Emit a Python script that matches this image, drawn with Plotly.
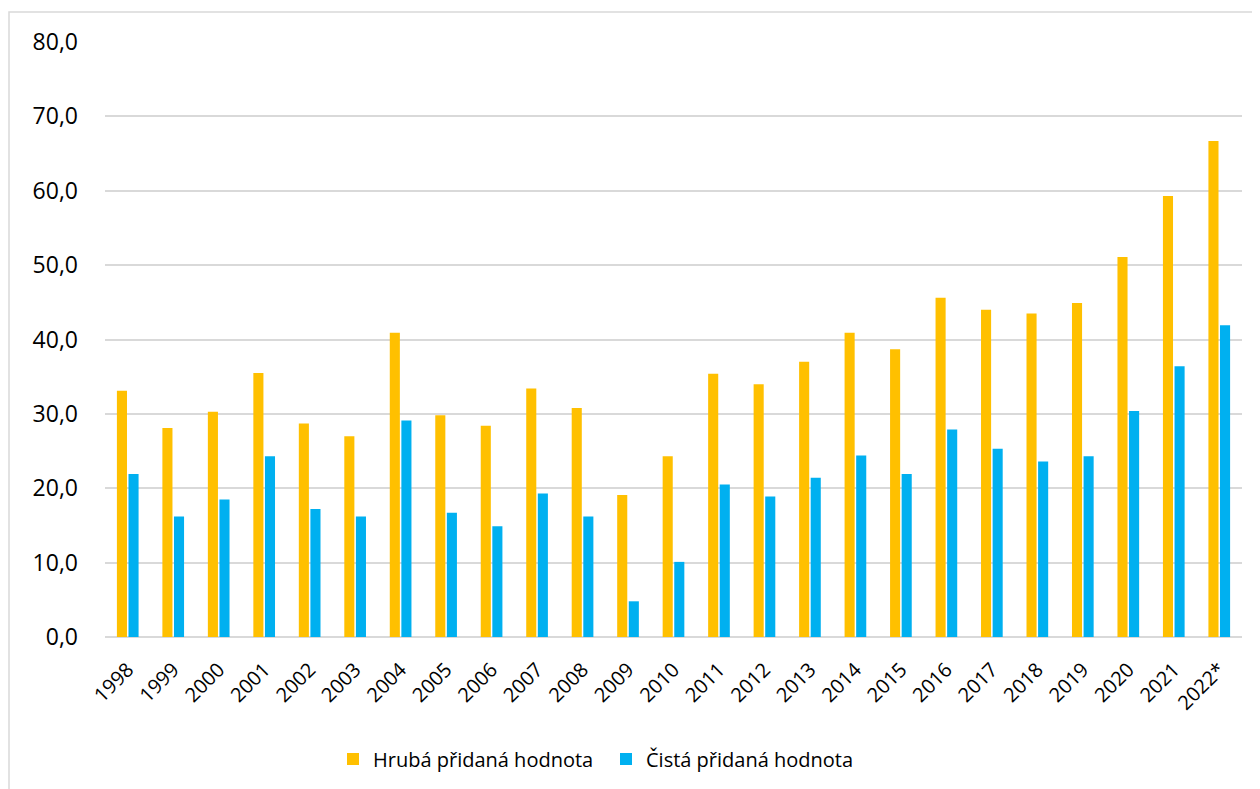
import plotly.graph_objects as go

years = ["1998", "1999", "2000", "2001", "2002", "2003", "2004", "2005", "2006", "2007",
         "2008", "2009", "2010", "2011", "2012", "2013", "2014", "2015", "2016", "2017",
         "2018", "2019", "2020", "2021", "2022*"]
hruba = [33.1, 28.1, 30.3, 35.5, 28.7, 27.0, 40.9, 29.8, 28.4, 33.4,
         30.8, 19.1, 24.3, 35.4, 34.0, 37.0, 40.9, 38.7, 45.6, 44.0,
         43.5, 44.9, 51.1, 59.3, 66.7]
cista = [21.9, 16.2, 18.5, 24.3, 17.2, 16.2, 29.1, 16.7, 14.9, 19.3,
         16.2, 4.8, 10.1, 20.5, 18.9, 21.4, 24.4, 21.9, 27.9, 25.3,
         23.6, 24.3, 30.4, 36.4, 41.9]
series_names = ["Hrubá přidaná hodnota", "Čistá přidaná hodnota"]
colors = ["#FFC000", "#00B0F0"]
y_ticks = [0, 10, 20, 30, 40, 50, 60, 70, 80]

FONT = "Open Sans"
OFF = 8  # page body margin
W, H = 1260 - OFF, 789 - OFF
L, R, T, B = 105 - OFF, 18, 42 - OFF, 151
pw, ph = W - L - R, H - T - B

fig = go.Figure()
for name, vals, col in zip(series_names, [hruba, cista], colors):
    fig.add_trace(go.Bar(x=years, y=vals, name=name, marker=dict(color=col, line=dict(width=0))))

def px_x(p):
    return (p - OFF - L) / pw

def px_y(p):
    return (H - B - (p - OFF)) / ph

fig.add_shape(type="rect", xref="paper", yref="paper",
              x0=px_x(9), x1=px_x(1275), y0=px_y(805), y1=px_y(12),
              line=dict(color="#d9d9d9", width=1.5), fillcolor="rgba(0,0,0,0)", layer="below")

fig.update_layout(
    width=W, height=H,
    margin=dict(l=L, r=R, t=T, b=B, pad=0),
    paper_bgcolor="white", plot_bgcolor="white",
    barmode="group", bargap=0.49, bargroupgap=0.13,
    separators=", ",
    font=dict(family=FONT, color="#000000"),
    showlegend=True,
    legend=dict(orientation="h", x=px_x(333), xanchor="left", y=px_y(759), yanchor="middle",
                font=dict(size=20, family=FONT, color="#000000"),
                entrywidth=228, entrywidthmode="pixels",
                bgcolor="rgba(0,0,0,0)"),
)
fig.update_yaxes(range=[0, 80], tickvals=y_ticks, tickformat=".1f",
                 showgrid=True, gridcolor="#d9d9d9", gridwidth=1.5,
                 zeroline=True, zerolinecolor="#d9d9d9", zerolinewidth=1.5,
                 showline=False, ticks="", ticklabelstandoff=26,
                 tickfont=dict(size=23, family=FONT, color="#000000"))
fig.update_xaxes(type="category", tickangle=-45, showgrid=False, showline=False, ticks="",
                 ticklabelstandoff=16,
                 tickfont=dict(size=20, family=FONT, color="#000000"))

fig.write_html("out.html")
